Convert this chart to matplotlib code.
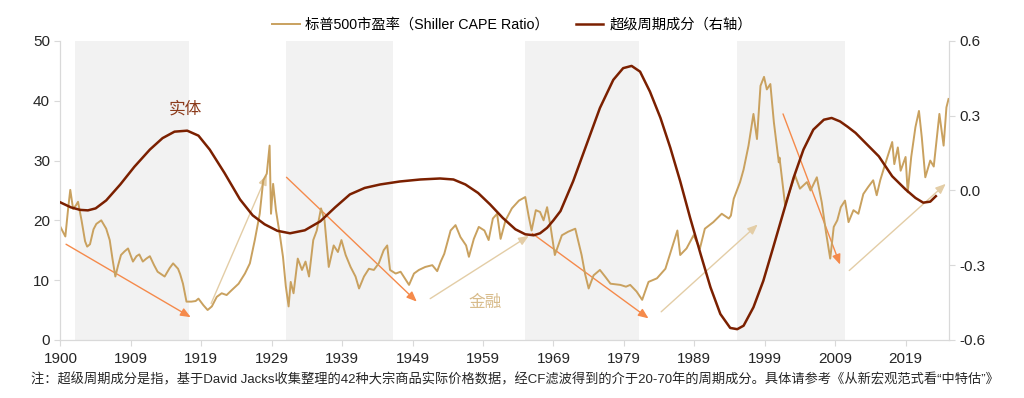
import numpy as np
import matplotlib
matplotlib.use('Agg')
import matplotlib.pyplot as plt

plt.rcParams['font.family'] = ['Liberation Sans', 'Noto Sans CJK SC']
plt.rcParams['axes.unicode_minus'] = False

# 标普500 Shiller CAPE
cape_year = [1900.0, 1900.7, 1901.1, 1901.4, 1901.8, 1902.2, 1902.5, 1903.0, 1903.5, 1903.8,
             1904.2, 1904.7, 1905.1, 1905.8, 1906.5, 1907.0, 1907.4, 1907.8, 1908.2, 1908.6,
             1909.1, 1909.6, 1910.3, 1910.8, 1911.2, 1911.7, 1912.2, 1912.7, 1913.3, 1913.8,
             1914.3, 1914.8, 1915.5, 1916.0, 1916.7, 1917.0, 1917.4, 1917.9, 1918.6, 1919.2,
             1919.6, 1920.3, 1920.9, 1921.5, 1922.2, 1922.9, 1923.6, 1924.3, 1925.3, 1926.2,
             1926.9, 1927.6, 1928.3, 1928.8, 1929.3, 1929.7, 1929.9, 1930.2, 1930.6, 1931.2,
             1931.6, 1932.0, 1932.4, 1932.7, 1933.1, 1933.7, 1934.3, 1934.8, 1935.3, 1935.9,
             1936.4, 1937.0, 1937.5, 1938.1, 1938.8, 1939.4, 1939.9, 1940.5, 1941.2, 1941.9,
             1942.4, 1943.1, 1943.8, 1944.5, 1945.2, 1945.9, 1946.4, 1946.8, 1947.6, 1948.3,
             1948.9, 1949.5, 1950.2, 1950.9, 1951.8, 1952.8, 1953.5, 1954.0, 1954.5, 1955.4,
             1956.1, 1956.8, 1957.6, 1958.0, 1958.7, 1959.4, 1960.2, 1960.8, 1961.4, 1962.0,
             1962.5, 1963.2, 1964.1, 1965.1, 1966.0, 1966.5, 1966.9, 1967.5, 1968.1, 1968.6,
             1969.1, 1969.6, 1970.2, 1971.2, 1972.1, 1973.1, 1974.0, 1974.5, 1975.0, 1975.7,
             1976.6, 1977.4, 1978.1, 1979.5, 1980.3, 1980.9, 1981.8, 1982.6, 1983.5, 1984.7,
             1985.9, 1986.8, 1987.6, 1988.0, 1988.9, 1989.9, 1990.8, 1991.5, 1992.7, 1993.9,
             1994.9, 1995.2, 1995.6, 1996.5, 1997.0, 1997.7, 1998.4, 1998.9, 1999.4, 1999.9,
             2000.3, 2000.8, 2001.3, 2002.0, 2002.1, 2002.9, 2003.3, 2004.3, 2005.0, 2006.0,
             2006.5, 2007.4, 2008.1, 2008.7, 2009.3, 2009.8, 2010.3, 2010.8, 2011.4,
             2011.9, 2012.6, 2013.3, 2014.0, 2014.7, 2015.4, 2015.9, 2016.4, 2017.1, 2018.1,
             2018.4, 2018.9, 2019.3, 2020.0, 2020.3, 2020.8, 2021.4, 2021.9, 2022.3, 2022.8,
             2023.5, 2024.0, 2024.8, 2025.4, 2025.8, 2026.1]
cape_val = [18.9, 17.3, 22.0, 25.1, 21.9, 22.5, 23.1, 20.0, 16.5, 15.6,
            16.0, 18.5, 19.4, 20.0, 18.6, 16.7, 13.5, 10.6, 12.5, 14.2,
            14.8, 15.3, 13.1, 14.0, 14.3, 13.1, 13.6, 14.0, 12.5, 11.4,
            11.0, 10.6, 12.0, 12.8, 11.9, 11.0, 9.4, 6.4, 6.4, 6.5,
            6.9, 5.8, 5.0, 5.6, 7.2, 7.8, 7.5, 8.3, 9.4, 11.1,
            12.8, 16.7, 21.1, 26.7, 27.8, 32.5, 21.1, 26.1, 21.7, 17.2,
            13.9, 9.0, 5.6, 9.7, 7.8, 13.6, 11.7, 13.1, 10.6, 16.7,
            18.3, 22.0, 20.0, 12.2, 15.8, 14.7, 16.7, 14.2, 12.2, 10.6,
            8.6, 10.6, 11.9, 11.7, 12.8, 15.0, 15.8, 11.7, 11.1, 11.4,
            10.3, 9.2, 11.1, 11.7, 12.2, 12.5, 11.5, 13.1, 14.4, 18.3,
            19.2, 17.2, 15.8, 13.9, 16.9, 18.9, 18.3, 16.7, 20.3, 21.1,
            16.9, 20.0, 22.0, 23.3, 23.9, 20.6, 18.3, 21.7, 21.4, 20.0,
            22.2, 18.9, 14.2, 17.5, 18.1, 18.6, 14.2, 11.0, 8.6, 10.8,
            11.7, 10.5, 9.4, 9.2, 8.9, 9.2, 8.1, 6.7, 9.7, 10.3,
            11.9, 15.3, 18.3, 14.2, 15.3, 17.5, 15.3, 18.6, 19.7, 21.1,
            20.3, 20.8, 23.6, 26.4, 28.5, 32.5, 37.8, 33.6, 42.5, 44.0,
            41.9, 42.8, 36.4, 29.7, 30.5, 22.5, 24.0, 27.5, 25.3, 26.4,
            25.0, 27.2, 23.0, 18.0, 13.6, 18.9, 20.0, 22.2, 23.3,
            19.7, 21.7, 21.1, 24.4, 25.6, 26.7, 24.2, 26.7, 29.4, 33.1,
            29.4, 32.2, 28.3, 30.6, 24.7, 30.6, 35.6, 38.3, 33.9, 27.2,
            30.0, 29.0, 37.8, 32.5, 38.9, 40.3]

# 超级周期成分（右轴，读图估计）
cyc_year = [1900.0, 1901.5, 1902.8, 1903.9, 1905.0, 1906.5, 1908.5, 1910.5, 1912.7, 1914.5,
            1916.2, 1918.0, 1919.6, 1921.2, 1923.3, 1925.5, 1927.3, 1929.0, 1930.8, 1932.6,
            1934.7, 1936.9, 1939.0, 1941.1, 1943.2, 1945.4, 1948.2, 1951.1, 1953.9, 1955.8,
            1957.5, 1959.3, 1961.0, 1962.8, 1964.6, 1966.0, 1967.2, 1968.1, 1969.1, 1970.0,
            1971.0, 1972.8, 1974.7, 1976.6, 1978.5, 1979.9, 1981.1, 1982.3, 1983.7, 1985.2,
            1986.6, 1988.0, 1989.4, 1990.9, 1992.3, 1993.7, 1995.1, 1996.1, 1997.0, 1998.4,
            1999.8, 2001.2, 2002.7, 2004.1, 2005.5, 2006.9, 2008.4, 2009.5, 2010.7, 2011.8,
            2012.9, 2014.3, 2016.2, 2018.1, 2020.0, 2021.4, 2022.5, 2023.5, 2024.3]
cyc_val = [-0.048, -0.068, -0.078, -0.080, -0.072, -0.040, 0.024, 0.095, 0.164, 0.210,
           0.236, 0.240, 0.220, 0.164, 0.070, -0.036, -0.100, -0.136, -0.162, -0.172,
           -0.160, -0.124, -0.068, -0.016, 0.010, 0.024, 0.036, 0.044, 0.048, 0.044,
           0.024, -0.010, -0.056, -0.110, -0.156, -0.176, -0.180, -0.172, -0.150, -0.120,
           -0.083, 0.037, 0.184, 0.331, 0.444, 0.491, 0.500, 0.477, 0.397, 0.291,
           0.171, 0.037, -0.109, -0.256, -0.389, -0.496, -0.552, -0.557, -0.543, -0.469,
           -0.363, -0.229, -0.083, 0.051, 0.164, 0.244, 0.284, 0.291, 0.277, 0.255,
           0.231, 0.191, 0.137, 0.057, 0.004, -0.030, -0.049, -0.045, -0.023]

shade_start = [1902.0, 1932.0, 1966.0, 1996.0]
shade_end = [1918.2, 1947.2, 1982.2, 2011.4]

tick_pos = list(range(1900, 2021, 10))
tick_lab = ['1900', '1909', '1919', '1929', '1939', '1949', '1959',
            '1969', '1979', '1989', '1999', '2009', '2019']

# 箭头：起点、终点（左轴坐标）、颜色
arrows = [((1900.8, 16.0), (1918.5, 3.8), '#F58A4B'),
          ((1921.4, 6.1), (1929.3, 27.6), '#E3CDA6'),
          ((1932.1, 27.2), (1950.6, 6.4), '#F58A4B'),
          ((1952.5, 6.9), (1966.5, 17.4), '#E3CDA6'),
          ((1967.0, 17.8), (1983.5, 3.6), '#F58A4B'),
          ((1985.3, 4.7), (1999.0, 19.3), '#E3CDA6'),
          ((2002.6, 37.8), (2010.7, 12.6), '#F58A4B'),
          ((2012.0, 11.6), (2025.7, 26.1), '#E3CDA6')]

cape_color = '#C9A15F'
cyc_color = '#7B2000'
spine_color = '#D9D9D9'

fig = plt.figure(figsize=(10.24, 3.98), dpi=100)
ax = fig.add_axes([0.059, 0.146, 0.868, 0.751])

for s, e in zip(shade_start, shade_end):
    ax.axvspan(s, e, color='#F2F2F2', lw=0, zorder=0)

for (x0, y0), (x1, y1), c in arrows:
    ax.annotate('', xy=(x1, y1), xytext=(x0, y0),
                arrowprops=dict(arrowstyle='-|>,head_length=0.6,head_width=0.25',
                                color=c, lw=1.0, shrinkA=0, shrinkB=0), zorder=2)

l1, = ax.plot(cape_year, cape_val, color=cape_color, lw=1.4, zorder=3,
              label='标普500市盈率（Shiller CAPE Ratio）')
ax.set_xlim(1900, 2026.2)
ax.set_ylim(0, 50)
ax.set_yticks([0, 10, 20, 30, 40, 50])
ax.set_xticks(tick_pos)
ax.set_xticklabels(tick_lab)

ax2 = ax.twinx()
l2, = ax2.plot(cyc_year, cyc_val, color=cyc_color, lw=1.8, zorder=4,
               solid_joinstyle='round', label='超级周期成分（右轴）')
ax2.set_ylim(-0.6, 0.6)
ax2.set_yticks([-0.6, -0.3, 0.0, 0.3, 0.6])
ax2.set_yticklabels(['-0.6', '-0.3', '0.0', '0.3', '0.6'])

for a in (ax, ax2):
    a.spines['top'].set_visible(False)
    for side in ('left', 'right', 'bottom'):
        a.spines[side].set_color(spine_color)
    a.tick_params(colors='#262626', labelsize=11, length=4, color=spine_color)
ax.tick_params(axis='x', pad=5)

ax.text(1917.7, 38.6, '实体', color='#8B3A1A', fontsize=12, style='italic',
        ha='center', va='center')
ax.text(1960.3, 6.3, '金融', color='#D8BC8C', fontsize=12, style='italic',
        ha='center', va='center')

fig.legend(handles=[l1, l2], loc='center', bbox_to_anchor=(0.5, 0.937), ncol=2,
           frameon=False, fontsize=10.3, handlelength=1.9, columnspacing=1.9,
           handletextpad=0.4)

fig.text(0.03, 0.045, '注：超级周期成分是指，基于David Jacks收集整理的42种大宗商品实际价格数据，'
         '经CF滤波得到的介于20-70年的周期成分。具体请参考《从新宏观范式看“中特估”》',
         fontsize=9.5, color='#262626', va='center', ha='left')

fig.savefig('out.png', dpi=100)
